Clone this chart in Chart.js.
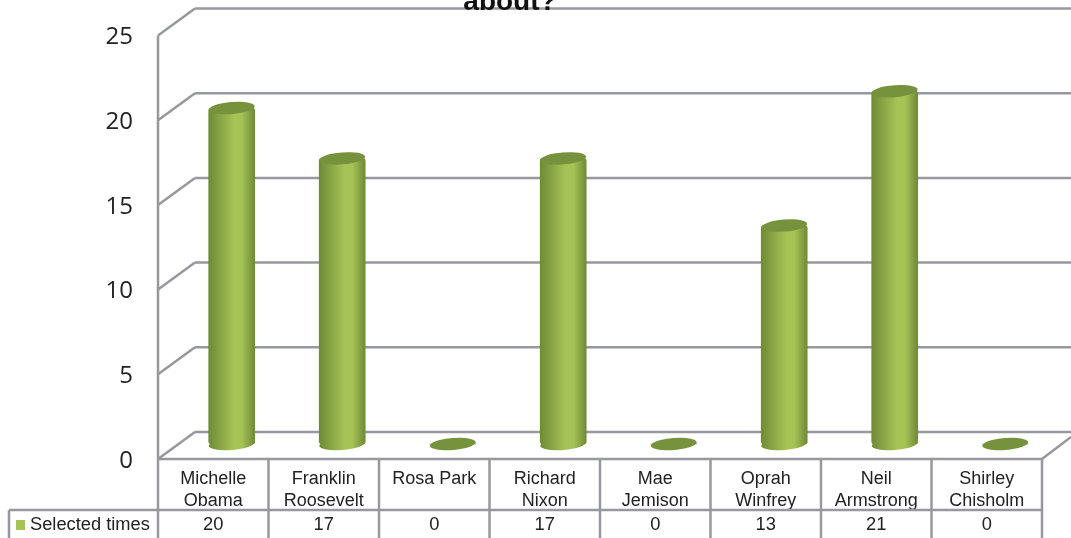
<!DOCTYPE html>
<html>
<head>
<meta charset="utf-8">
<style>
  html, body { margin: 0; padding: 0; background: #fff; overflow: hidden; }
  canvas { display: block; }
</style>
<script src="https://cdn.jsdelivr.net/npm/chart.js@4"></script>
</head>
<body>
<canvas id="chart" width="1071" height="538"></canvas>
<script>
const categories = [
  ['Michelle', 'Obama'],
  ['Franklin', 'Roosevelt'],
  ['Rosa Park'],
  ['Richard', 'Nixon'],
  ['Mae', 'Jemison'],
  ['Oprah', 'Winfrey'],
  ['Neil', 'Armstrong'],
  ['Shirley', 'Chisholm']
];
const selectedTimes = [20, 17, 0, 17, 0, 13, 21, 0];
const seriesName = 'Selected times';
const titleText = 'about?';

const GRID = '#96989d';
const TOP_GREEN = '#76923c';
const SIDE_DARK = '#6f8b36';
const SIDE_LIGHT = '#a6c356';
// floor/wall depth of the fake 3d box
const DEPTH_X = 37, DEPTH_Y = 27;
const BAR_W = 46, ELL_RY = 6, ELL_ROT = -0.08;
const PLOT_TOP = 35.5;

function barGradient(ctx) {
  if (ctx.dataIndex === undefined) return SIDE_LIGHT;
  const cx = ctx.chart.scales.xBar.getPixelForValue(ctx.dataIndex);
  if (!isFinite(cx)) return SIDE_LIGHT;
  const g = ctx.chart.ctx.createLinearGradient(cx - BAR_W / 2, 0, cx + BAR_W / 2, 0);
  g.addColorStop(0, SIDE_DARK);
  g.addColorStop(0.55, SIDE_LIGHT);
  g.addColorStop(0.72, SIDE_LIGHT);
  g.addColorStop(1, SIDE_DARK);
  return g;
}

function line(c, x1, y1, x2, y2) {
  c.beginPath();
  c.moveTo(x1, y1);
  c.lineTo(x2, y2);
  c.stroke();
}

function ellipse(c, x, y, fill) {
  c.fillStyle = fill;
  c.beginPath();
  c.ellipse(x, y, BAR_W / 2, ELL_RY, ELL_ROT, 0, Math.PI * 2);
  c.fill();
}

const box3d = {
  id: 'box3d',
  // layout padding does not get the top edge where it has to be, so set it here
  afterLayout(chart) {
    const a = chart.chartArea;
    a.top = PLOT_TOP;
    a.height = a.bottom - a.top;
    [chart.scales.y, chart.scales.yBar].forEach(s => {
      s.top = PLOT_TOP;
      s.height = s.bottom - s.top;
      s.configure();
    });
  },
  // back wall, floor and the bottoms of the cylinders
  beforeDatasetsDraw(chart) {
    const c = chart.ctx, a = chart.chartArea, y = chart.scales.y;
    c.save();
    c.strokeStyle = GRID;
    c.lineWidth = 2.5;
    y.ticks.forEach((t, i) => {
      const py = y.getPixelForTick(i);
      line(c, a.left, py, a.left + DEPTH_X, py - DEPTH_Y);
      line(c, a.left + DEPTH_X, py - DEPTH_Y, chart.width, py - DEPTH_Y);
    });
    line(c, a.left, a.top, a.left, a.bottom);
    line(c, a.right, a.bottom, chart.width, a.bottom - 22);
    chart.getDatasetMeta(0).data.forEach((el, i) => {
      if (selectedTimes[i] > 0) ellipse(c, el.x, el.base, barGradient({ chart, dataIndex: i }));
    });
    c.restore();
  },
  // top of the cylinders
  afterDatasetsDraw(chart) {
    const c = chart.ctx;
    chart.getDatasetMeta(0).data.forEach(el => ellipse(c, el.x, el.y, TOP_GREEN));
  },
  // title and data table
  afterDraw(chart) {
    const c = chart.ctx, a = chart.chartArea, x = chart.scales.x;
    const rowTop = 510, bottom = 538;
    c.save();
    c.fillStyle = '#111';
    c.font = 'bold 28px "Liberation Sans"';
    c.textAlign = 'center';
    c.textBaseline = 'alphabetic';
    c.fillText(titleText, 510, 10);

    c.strokeStyle = GRID;
    c.lineWidth = 2.5;
    line(c, a.left, a.bottom, a.right, a.bottom);
    line(c, 9, rowTop, a.right, rowTop);
    line(c, 9, rowTop, 9, bottom);
    line(c, a.left, a.bottom, a.left, bottom);
    categories.forEach((_, i) => {
      const right = x.getPixelForTick(i) + (a.right - a.left) / categories.length / 2;
      line(c, right, a.bottom, right, bottom);
    });

    c.fillStyle = SIDE_LIGHT;
    c.fillRect(16, 520, 9, 10);
    c.fillStyle = '#222';
    c.font = '18.3px "Liberation Sans"';
    c.textAlign = 'left';
    c.textBaseline = 'middle';
    c.fillText(seriesName, 30, 525);
    c.textAlign = 'center';
    selectedTimes.forEach((v, i) => c.fillText(String(v), x.getPixelForTick(i), 525));
    c.restore();
  }
};

new Chart(document.getElementById('chart'), {
  type: 'bar',
  data: {
    labels: categories,
    datasets: [{
      label: seriesName,
      data: selectedTimes.map((v, i) => ({ x: i, y: v })),
      xAxisID: 'xBar',
      yAxisID: 'yBar',
      barThickness: BAR_W,
      borderWidth: 0,
      borderRadius: 3,
      borderSkipped: false,
      backgroundColor: barGradient
    }]
  },
  plugins: [box3d],
  options: {
    responsive: false,
    animation: false,
    events: [],
    layout: { padding: { top: 35.5, right: 29, bottom: 0, left: 0 } },
    plugins: {
      legend: { display: false },
      tooltip: { enabled: false },
      title: { display: false }
    },
    scales: {
      x: {
        type: 'category',
        grid: { display: false, drawTicks: false },
        border: { display: false },
        afterFit(s) { s.height = 79; },
        ticks: {
          padding: 9,
          maxRotation: 0,
          autoSkip: false,
          color: '#222',
          font: { family: '"Liberation Sans"', size: 18, lineHeight: 1.22 }
        }
      },
      y: {
        min: 0,
        max: 25,
        grid: { display: false, drawTicks: false },
        border: { display: false },
        afterFit(s) { s.width = 158; },
        ticks: {
          stepSize: 5,
          padding: 25,
          labelOffset: 2,
          color: '#222',
          font: { family: '"Open Sans"', size: 24 }
        }
      },
      // the cylinders stand on the middle of the floor, half the depth behind the front
      xBar: { type: 'linear', offset: false, display: false, min: -0.667, max: 7.333 },
      yBar: { type: 'linear', display: false, min: -0.893, max: 24.315 }
    }
  }
});
</script>
</body>
</html>
